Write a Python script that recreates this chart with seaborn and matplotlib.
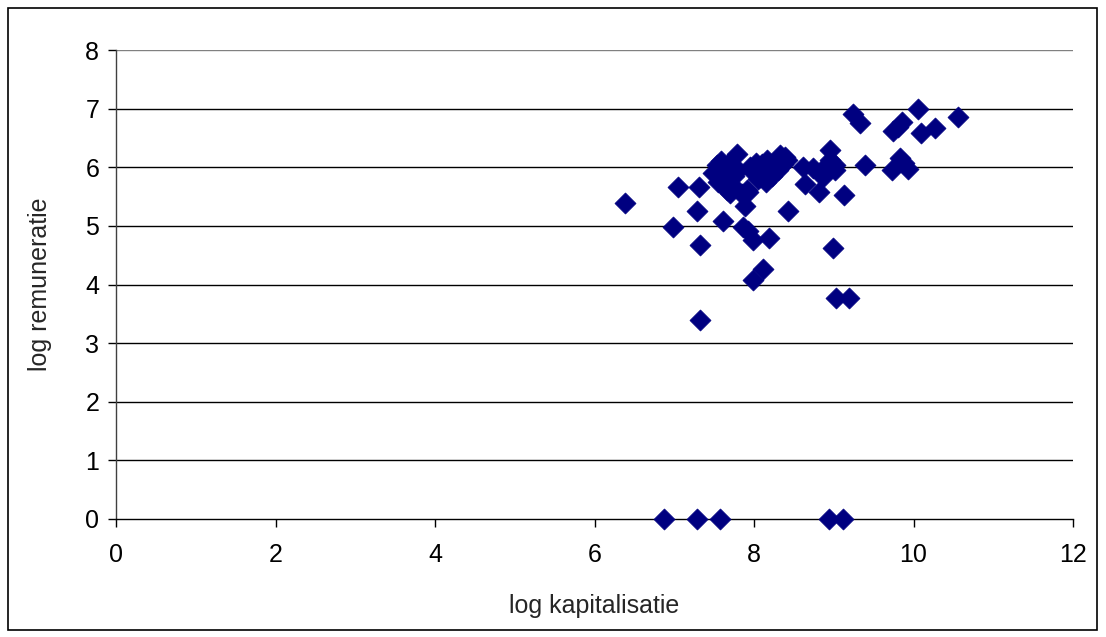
import matplotlib
matplotlib.use("Agg")
import matplotlib.pyplot as plt
import seaborn as sns
import pandas as pd
from matplotlib.patches import Rectangle

log_kapitalisatie = [
    6.87, 7.29, 7.57, 8.94, 9.12,
    7.32, 7.99, 8.11, 9.03, 9.19, 7.32, 8.99, 7.99, 8.19, 7.86, 7.92, 6.98,
    7.61, 7.28, 8.43, 7.89, 6.38, 9.13,
    7.05, 7.31, 7.93, 8.82, 8.64,
    7.49, 7.54, 7.58, 7.61, 7.65, 7.70, 7.72, 7.66, 7.75, 7.79, 7.80, 7.55,
    7.60, 7.68, 7.85,
    7.91, 7.95, 8.00, 8.05, 8.08, 8.10, 8.12, 8.16, 8.20, 8.24, 8.28, 8.33,
    8.36, 8.39, 8.41, 8.30, 8.15, 8.02, 8.22,
    8.61, 8.74, 8.87, 8.91, 8.95, 8.95, 9.02, 9.02,
    9.24, 9.33, 9.39, 9.73, 9.74, 9.80, 9.85, 9.83, 9.93, 10.06, 10.10,
    10.27, 10.56, 9.88,
]
log_remuneratie = [
    0.0, 0.0, 0.0, 0.0, 0.0,
    3.40, 4.08, 4.27, 3.77, 3.77, 4.68, 4.62, 4.76, 4.80, 4.98, 4.92, 4.98,
    5.08, 5.26, 5.26, 5.34, 5.39, 5.53,
    5.67, 5.67, 5.58, 5.58, 5.72,
    5.90, 6.04, 6.10, 5.78, 5.95, 5.56, 5.70, 5.62, 5.85, 6.23, 5.95, 5.75,
    6.00, 6.05, 5.55,
    5.61, 6.00, 5.90, 5.80, 5.84, 6.05, 5.95, 6.13, 6.00, 5.90, 6.10, 6.21,
    6.05, 6.18, 6.13, 5.95, 5.75, 6.08, 5.85,
    6.00, 5.99, 5.84, 6.04, 6.13, 6.30, 6.04, 5.95,
    6.90, 6.76, 6.04, 5.95, 6.62, 6.68, 6.77, 6.16, 5.97, 7.00, 6.59,
    6.67, 6.86, 6.08,
]

x_ticks = [0, 2, 4, 6, 8, 10, 12]
y_ticks = [0, 1, 2, 3, 4, 5, 6, 7, 8]

df = pd.DataFrame({"log kapitalisatie": log_kapitalisatie,
                   "log remuneratie": log_remuneratie})

sns.set_theme(style="white")
plt.rcParams["font.family"] = ["Liberation Sans", "DejaVu Sans"]

fig = plt.figure(figsize=(11.06, 6.37), dpi=100)
ax = fig.add_axes([116 / 1106, 1 - 519 / 637, (1073 - 116) / 1106, (519 - 50) / 637])

for yv in y_ticks[1:]:
    ax.axhline(yv, color="black" if yv < 8 else "#808080", lw=1.0, zorder=1)

sns.scatterplot(data=df, x="log kapitalisatie", y="log remuneratie", marker="D",
                s=115, color="#000080", edgecolor="#000080", linewidth=0.5,
                ax=ax, zorder=3, clip_on=False)

ax.set_xlim(0, 12)
ax.set_ylim(0, 8)
ax.set_xticks(x_ticks)
ax.set_yticks(y_ticks)
ax.tick_params(axis="both", labelsize=18, colors="black", direction="out",
               length=6, width=1, left=True, bottom=True)
ax.tick_params(axis="x", pad=11)
ax.tick_params(axis="y", pad=6)
ax.set_xlabel("log kapitalisatie", fontsize=18, labelpad=20)
ax.set_ylabel("log remuneratie", fontsize=18, labelpad=24)
for side in ["top", "right"]:
    ax.spines[side].set_visible(False)
ax.spines["left"].set_color("#404040")
ax.spines["bottom"].set_color("black")
for side in ["left", "bottom"]:
    ax.spines[side].set_linewidth(1)

fig.patches.append(Rectangle((8 / 1106, 1 - 630 / 637), 1089 / 1106, 622 / 637,
                             transform=fig.transFigure, fill=False,
                             edgecolor="black", lw=1.2))

fig.savefig("out.png", dpi=100)
